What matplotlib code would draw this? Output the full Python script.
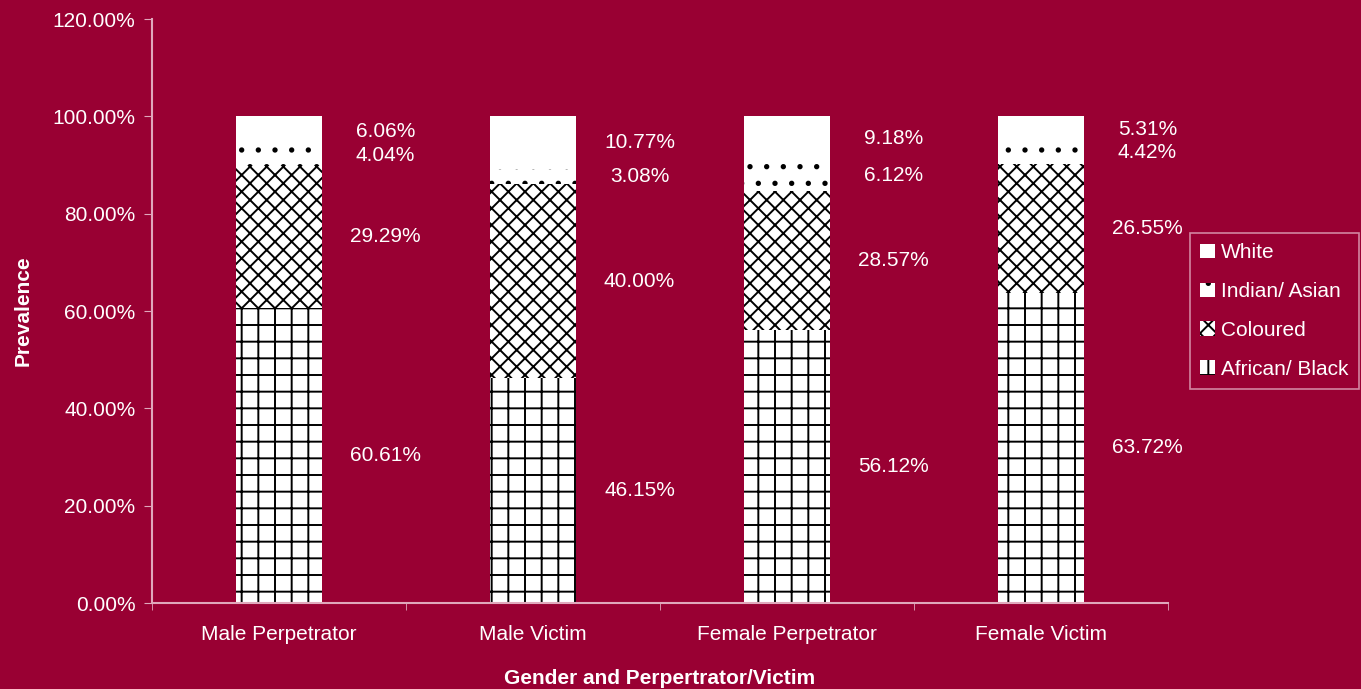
import matplotlib.pyplot as plt
import numpy as np

plt.rcParams['font.family'] = ['Liberation Sans', 'DejaVu Sans']
plt.rcParams['hatch.linewidth'] = 1.4

BG = "#990033"
AXIS = "#e0a8bc"

groups = ["Male Perpetrator", "Male Victim", "Female Perpetrator", "Female Victim"]
african = [60.61, 46.15, 56.12, 63.72]
coloured = [29.29, 40.00, 28.57, 26.55]
indian = [4.04, 3.08, 6.12, 4.42]
white = [6.06, 10.77, 9.18, 5.31]

series = [("African/ Black", african, "+"),
          ("Coloured", coloured, "xx"),
          ("Indian/ Asian", indian, "."),
          ("White", white, "")]

fig = plt.figure(figsize=(13.61, 6.89), dpi=100, facecolor=BG)
ax = fig.add_axes([0.1117, 0.1248, 0.7463, 0.8476])
ax.set_facecolor(BG)

x = np.arange(len(groups))
bottom = np.zeros(len(groups))
handles = []
for name, vals, hatch in series:
    vals = np.array(vals)
    b = ax.bar(x, vals, 0.34, bottom=bottom, color="white", edgecolor="black",
               linewidth=0, hatch=hatch, label=name)
    handles.append(b)
    for xi, bt, v in zip(x, bottom, vals):
        ax.text(xi + 0.42, bt + v / 2, f"{v:.2f}%", color="white", fontsize=15,
                ha="center", va="center")
    bottom += vals

ax.set_xlim(-0.5, 3.5)
ax.set_ylim(0, 120)
ax.set_yticks(np.arange(0, 121, 20))
ax.set_yticklabels([f"{v:.2f}%" for v in np.arange(0, 121, 20)])
ax.set_xticks(x)
ax.set_xticklabels(groups)
ax.set_xticks(np.arange(-0.5, 4, 1), minor=True)
ax.tick_params(axis="x", which="major", length=0, pad=16, labelsize=15, colors="white")
ax.tick_params(axis="x", which="minor", length=5, color=AXIS, direction="out")
ax.tick_params(axis="y", length=6, color=AXIS, labelsize=15, labelcolor="white", pad=6)

for s in ["top", "right"]:
    ax.spines[s].set_visible(False)
for s in ["left", "bottom"]:
    ax.spines[s].set_color(AXIS)
    ax.spines[s].set_linewidth(1.5)

ax.set_xlabel("Gender and Perpertrator/Victim", fontsize=15, fontweight="bold",
              color="white", labelpad=18)
ax.set_ylabel("Prevalence", fontsize=15, fontweight="bold", color="white", labelpad=14)

leg = fig.legend(handles=handles[::-1], labels=[s[0] for s in series][::-1],
                 loc="upper left", bbox_to_anchor=(0.874, 0.662), borderaxespad=0,
                 frameon=True, fontsize=15, labelcolor="white", handlelength=0.7,
                 handleheight=0.7, handletextpad=0.3, labelspacing=0.95,
                 borderpad=0.5, fancybox=False)
leg.get_frame().set_facecolor(BG)
leg.get_frame().set_edgecolor(AXIS)
leg.get_frame().set_linewidth(1.2)

fig.savefig("out.png", dpi=100, facecolor=BG)
